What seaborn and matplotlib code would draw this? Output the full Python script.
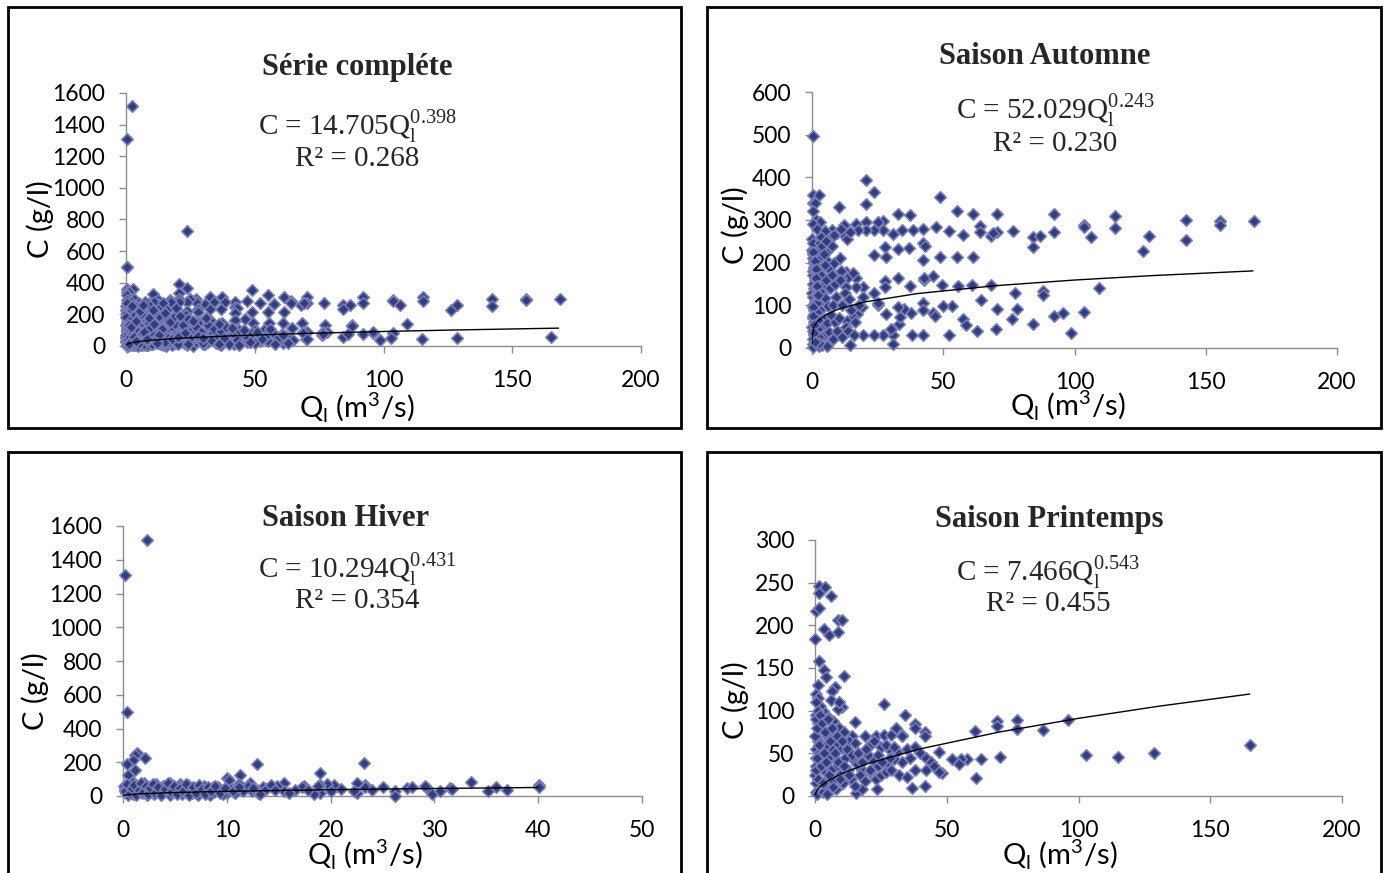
import pandas as pd
import numpy as np
import matplotlib.pyplot as plt
import seaborn as sns
from matplotlib.patches import Rectangle

sns.set_theme(style='white')
plt.rcParams['font.family'] = ['Lato', 'DejaVu Sans']

# autumn points (Q in m3/s, C in g/l)
autumn_q = [0.5, 0.5, 2.7, 0.5, 1.2, 0.3, 20.6, 23.6, 48.8, 20.6, 10.3, 1.5, 3, 0.4, 1.8, 32.6, 37.3, 55.1, 61.5, 70.3,
            92.2, 92.2, 84.3, 86.9, 84.3, 76.7, 70.3, 68, 69, 64, 64, 57.4, 52.2, 47.1, 42.4, 38.6, 34.2, 30.7, 27.2, 27.2,
            25, 23.6, 20.6, 20.6, 16.9, 17.6, 12.3, 12.3, 7.5, 9.5, 13.5, 4.5, 6, 2.5, 5, 8.5, 11, 14.5,
            42.4, 43, 37, 32.6, 27.8, 28, 23.6, 48.8, 55.1, 61.5, 42.4, 46.2, 42.5, 42.5, 37.3, 32.6, 27.8, 27.8, 23.6, 19.5,
            19.5, 16.8, 16.8, 13, 13.5, 11, 13, 49.4, 55.7, 60.8, 68.3, 64.4, 70.3, 77.3, 78.2, 87.9, 87.9, 76.1, 84.3, 92.2,
            95.8, 98.5, 70, 62.7, 57.5, 58.8, 52.2, 53.4, 50, 46.2, 47, 42.4, 42.4, 37.9, 35, 32.6, 33.2, 33.6, 30.7, 30.7,
            30, 27, 23.6, 19.6, 38, 42.4, 28, 25, 25, 14.5, 19, 17, 15.5, 13.5,
            103.6, 103.6, 106.3, 115.4, 115.4, 126.2, 128.5, 142.3, 142.3, 155.4, 155.4, 168.4, 109.3, 103.7,
            0.1, 0.2, 0.3, 0.6, 0.8, 0.2, 0.4, 1, 0.3, 0.7, 0.1, 0.5, 1.1, 0.2, 0.6, 0.9, 0.3, 0.7, 0.1, 0.4,
            0.8, 0.2, 0.5, 0.3, 1.5, 1.8, 2.2, 1.6, 2.4, 1.9, 2.6, 1.4, 2.1, 1.7, 2.8, 1.3, 2.5, 3.2, 3.6, 4.1,
            3.4, 4.5, 3.8, 4.3, 3.1, 4.8, 3.5, 4.2, 3.9, 5.2, 5.8, 6.3, 5.5, 6.8, 5.1, 6.1, 7.2, 5.6, 6.6, 7.4,
            5.9, 7.8, 8.3, 7.5, 8.8, 9.2, 7.9, 8.6, 9.5, 8.1, 10.5, 11.2, 10.8, 12.5, 11.6, 10.2, 12.8, 11.4, 14, 15,
            16.5, 13.8, 15.8, 16, 18,
            0.15, 0.35, 0.55, 0.75, 0.95, 1.15, 1.35, 1.55, 1.75, 1.95, 2.15, 2.35, 2.55, 2.75, 2.95, 3.3, 3.7, 4.4, 4.9, 5.3,
            0.25, 0.45, 0.65, 0.85, 1.05, 1.25, 1.45, 1.65, 2.05, 2.45]
autumn_c = [497, 358, 358, 339, 340, 320, 394, 366, 355, 337, 331, 300, 296, 290, 280, 313, 312, 320, 313, 313,
            313, 273, 259, 262, 237, 275, 272, 262, 270, 285, 272, 265, 275, 284, 279, 276, 277, 268, 298, 276,
            296, 276, 296, 276, 290, 276, 288, 265, 276, 270, 256, 265, 262, 255, 275, 265, 280, 272,
            245, 240, 234, 232, 236, 213, 219, 214, 214, 214, 206, 169, 160, 165, 145, 163, 158, 143, 128, 143,
            120, 163, 143, 177, 163, 163, 143, 148, 145, 147, 147, 112, 91, 130, 91, 134, 125, 68, 56, 75,
            83, 36, 45, 41, 67, 53, 31, 99, 99, 83, 75, 106, 89, 83, 91, 97, 57, 72, 31, 10,
            45, 31, 31, 31, 31, 31, 80, 100, 106, 8, 95, 80, 72, 63,
            288, 283, 261, 309, 282, 228, 262, 300, 253, 298, 288, 297, 140, 85,
            230, 220, 210, 200, 190, 180, 170, 160, 150, 140, 130, 120, 110, 100, 90, 80, 70, 60, 50, 40,
            30, 20, 10, 2, 235, 215, 195, 175, 155, 135, 115, 95, 75, 55, 35, 15, 5, 230, 210, 190,
            170, 150, 128, 108, 88, 68, 48, 28, 8, 225, 205, 185, 160, 140, 118, 98, 78, 58, 38, 18,
            4, 240, 200, 170, 150, 120, 100, 60, 40, 20, 210, 180, 160, 130, 100, 70, 50, 25, 115, 90,
            60, 40, 175, 30, 100,
            255, 245, 225, 205, 185, 165, 145, 125, 105, 85, 65, 45, 25, 12, 245, 260, 240, 220, 195, 250,
            95, 75, 55, 35, 15, 205, 185, 165, 145, 125]

winter_q = [0.2, 2.3, 0.4, 1.38, 1.2, 2.1, 1.0, 0.35, 1.2, 12.9, 23.2, 19, 10, 11.3, 0.5, 33.5, 40.1, 40.1, 37, 35.9,
            35.2, 31.5, 31.7, 29.3, 29.8, 29.1, 27.4, 26.2, 26.2, 25, 23.3, 23.3, 22.5, 22.5, 22.3, 20.3, 19.7, 20, 19, 19,
            18.4, 17.4, 17.2, 16.6, 15.5, 14.8, 15.5, 13.5, 12.9, 12.2, 12.4, 11.5, 11.2, 10.2, 10, 9, 8.7, 8.4, 7.8, 6.8,
            6, 5.5, 4.5, 3.2, 2, 1,
            0.1, 0.2, 0.3, 0.5, 0.6, 0.8, 1, 1.2, 1.4, 1.6, 1.8, 2, 2.3, 2.5, 2.8, 3, 3.3, 3.6, 3.9, 4.2,
            4.5, 4.8, 5.1, 5.4, 5.7, 6, 6.3, 6.6, 6.9, 7.2, 7.5, 7.8, 8.1, 8.4, 8.8, 9.2, 9.6, 10.4, 10.8, 11.6,
            12, 13, 13.8, 14.3, 16, 17.8, 18.8, 21, 24, 27.8, 30.5,
            0.15, 0.4, 0.7, 0.9, 1.1, 1.3, 1.5, 1.7, 1.9, 2.2, 2.4, 2.6, 2.9, 3.1, 3.4, 3.7, 4, 4.3, 4.6, 4.9,
            5.2, 5.5, 5.8, 6.1, 6.4, 6.7, 7, 7.3, 7.6, 7.9, 8.2, 8.5, 8.9, 9.3, 9.8, 10.6, 11.2, 12.5, 13.2, 14.6]
winter_c = [1310, 1520, 500, 255, 245, 224, 214, 190, 153, 190, 198, 139, 108, 122, 122, 84, 65, 51, 37, 51,
            31, 47, 40, 47, 10, 57, 47, 27, 2, 55, 67, 55, 78, 16, 27, 67, 71, 27, 20, 65,
            14, 61, 51, 37, 80, 61, 30, 51, 35, 78, 27, 51, 71, 92, 20, 45, 51, 8, 51, 40,
            60, 70, 80, 70, 75, 82,
            60, 40, 20, 5, 55, 30, 10, 45, 25, 60, 15, 40, 5, 55, 30, 10, 48, 20, 62, 35,
            8, 50, 25, 58, 12, 38, 65, 20, 45, 5, 30, 62, 15, 40, 25, 55, 12, 40, 20, 30,
            60, 20, 40, 65, 20, 35, 58, 40, 35, 55, 30,
            30, 70, 15, 50, 65, 5, 35, 75, 25, 60, 10, 45, 70, 20, 55, 5, 40, 75, 25, 60,
            10, 45, 30, 70, 5, 55, 20, 65, 40, 10, 55, 30, 60, 20, 45, 30, 55, 45, 10, 35]

spring_q = [1.6, 3.8, 1.5, 6, 0.5, 1.4, 8.8, 10.4, 3.6, 5.5, 8.8, 0.1, 1.5, 3.5, 4.2, 11, 7.6, 6.3, 0.2, 1.3,
            6, 10.4, 8.8, 26.1, 34, 15.2, 38, 38, 30.7, 33.2, 41.8, 41.8, 60.7, 68.9, 68.9, 76.6, 76.6, 86.4, 96.1, 70.1,
            62.9, 57.5, 55.5, 52, 54.5, 48.1, 61, 46.9, 41.8, 37, 23.6, 15.7, 17.9, 103, 115, 128.5, 165,
            14, 19, 23, 26, 29, 33, 21, 25, 28, 31, 35, 38, 40, 42, 44, 36, 33, 30, 27, 24,
            22, 20, 18, 16, 14, 12, 10, 8, 6, 4, 2, 1, 0.5, 3, 5, 7, 9, 11, 13, 2,
            0.3, 1, 0.5, 0.2, 0.4, 0.1, 0.3, 0.2, 0.6, 1.5, 2.5, 3.5, 4.5, 5.5, 6.5, 7.5, 8.5, 9.5, 10.5, 11.5,
            12.5, 13.5, 15, 17, 19, 21, 23, 25, 27, 29, 32, 35, 38, 42, 45, 47, 1.2, 2.5, 4, 5,
            6, 7, 8, 3, 4.5, 9, 12,
            0.1, 0.3, 0.5, 0.7, 0.9, 1.1, 1.3, 1.6, 1.9, 2.2, 2.6, 3, 3.4, 3.8, 4.3, 4.8, 5.3, 5.8, 6.4, 7,
            7.6, 8.2, 8.9, 9.6, 10.3, 11.1, 12, 13, 14, 15, 16.5, 18, 19.5, 21, 22.5, 24, 25.5, 27, 28.5, 30]
spring_c = [246, 245, 238, 234, 217, 220, 206, 206, 196, 189, 192, 184, 158, 148, 139, 141, 128, 123, 120, 115,
            113, 104, 102, 108, 95, 87, 84, 80, 80, 72, 75, 70, 76, 88, 82, 89, 79, 77, 89, 46,
            43, 43, 43, 43, 38, 27, 21, 51, 12, 9, 8, 3, 8, 48, 46, 50, 60,
            70, 70, 70, 72, 72, 70, 60, 58, 55, 52, 55, 58, 50, 45, 40, 45, 40, 43, 38, 35,
            42, 48, 30, 38, 45, 52, 58, 62, 68, 72, 78, 85, 95, 100, 92, 88, 80, 75, 65, 105,
            110, 65, 55, 45, 35, 25, 15, 5, 2, 50, 40, 30, 20, 12, 55, 45, 35, 25, 15, 45,
            30, 20, 12, 25, 18, 28, 20, 25, 28, 30, 25, 22, 30, 30, 35, 28, 130, 90, 60, 45,
            30, 18, 8, 5, 2, 110, 30,
            70, 90, 30, 80, 45, 100, 20, 60, 95, 35, 85, 15, 50, 75, 40, 90, 25, 65, 80, 10,
            50, 70, 40, 20, 65, 35, 55, 25, 48, 62, 50, 40, 55, 30, 65, 48, 40, 60, 45, 58]

# points only present in the complete series
other_q = [23.5, 5, 10, 15, 20, 30, 40, 50, 55, 60, 65, 45, 35, 25, 12, 8, 3, 1,
           2, 4, 6, 9, 11, 14, 17, 19, 22, 24, 27, 29, 32, 34, 37, 39, 42, 44, 47, 49, 52, 54,
           57, 59, 62, 3, 7, 13, 18, 23, 28, 33, 38, 43, 48, 53, 58, 63, 1.5, 5.5, 9.5, 16,
           21, 26, 31, 36, 41, 46, 51, 56, 61, 4, 8, 12, 20, 24, 30, 36, 44, 0.5, 2.5, 6.5, 10.5, 15, 19.5]
other_c = [730, 20, 15, 25, 10, 20, 15, 20, 30, 35, 40, 50, 60, 50, 40, 30, 25, 15,
           120, 160, 200, 180, 140, 110, 150, 190, 130, 170, 120, 90, 130, 110, 95, 120, 75, 100, 60, 85,
           70, 55, 80, 50, 65, 60, 90, 70, 45, 85, 65, 40, 50, 35, 25, 45, 15, 20, 240, 220, 250, 230,
           190, 160, 180, 140, 115, 100, 90, 110, 70, 30, 45, 20, 60, 15, 50, 10, 5, 270, 250, 260, 230, 210, 240]

# power-law trend lines C = a * Q^b
trend_all_q = [0.5, 1, 2, 5, 10, 20, 40, 70, 100, 130, 168]
trend_all_c = [11.2, 14.7, 19.4, 27.9, 36.8, 48.5, 63.8, 79.8, 91.9, 102, 113]
trend_aut_q = [0.001, 0.01, 0.1, 0.5, 1, 2, 5, 10, 20, 40, 70, 100, 130, 168]
trend_aut_c = [9.7, 17.0, 29.7, 44.0, 52.0, 61.6, 76.9, 91.0, 107.8, 127.5, 146.1, 159.3, 169.8, 180.7]
trend_win_q = [0.05, 0.2, 0.5, 1, 2, 5, 10, 20, 30, 40]
trend_win_c = [2.8, 5.1, 7.6, 10.3, 13.9, 20.6, 27.8, 37.4, 44.6, 50.5]
trend_spr_q = [0.05, 0.5, 1, 2, 5, 10, 20, 40, 70, 100, 130, 165]
trend_spr_c = [1.5, 5.1, 7.5, 10.9, 17.9, 26.1, 38.0, 55.3, 75.0, 91.0, 105.0, 119.5]

titles = ['Série compléte', 'Saison Automne', 'Saison Hiver', 'Saison Printemps']
equations = [('14.705', '0.398', '0.268'), ('52.029', '0.243', '0.230'),
             ('10.294', '0.431', '0.354'), ('7.466', '0.543', '0.455')]

autumn = pd.DataFrame({'Q': autumn_q, 'C': autumn_c})
winter = pd.DataFrame({'Q': winter_q, 'C': winter_c})
spring = pd.DataFrame({'Q': spring_q, 'C': spring_c})
other = pd.DataFrame({'Q': other_q, 'C': other_c})
complete = pd.concat([autumn, winter, spring, other], ignore_index=True)

W, H = 1387, 873
fig = plt.figure(figsize=(W / 100, H / 100), dpi=100)

# boxes around each chart (pixel coords)
boxes = [(8, 7, 681, 428), (707, 7, 1381, 428), (8, 452, 681, 880), (707, 452, 1381, 880)]
for x0, y0, x1, y1 in boxes:
    fig.patches.append(Rectangle((x0 / W, 1 - y1 / H), (x1 - x0) / W, (y1 - y0) / H,
                                 transform=fig.transFigure, fill=False, lw=2, ec='black'))

# axes placement: left, right, bottom(0), top pixel
ax_px = [(126, 641, 346, 93), (812, 1337, 348, 92), (123, 642, 796, 526), (815, 1342, 796, 540)]
ylims = [1600, 600, 1600, 300]
ysteps = [200, 100, 200, 50]
xlims = [200, 200, 50, 200]
xsteps = [50, 50, 10, 50]
frames = [complete, autumn, winter, spring]
trends = [(trend_all_q, trend_all_c), (trend_aut_q, trend_aut_c), (trend_win_q, trend_win_c), (trend_spr_q, trend_spr_c)]
ylab_pos = [(-0.167, 0.50), (-0.147, 0.48), (-0.17, 0.39), (-0.152, 0.375)]
xlab_pos = [(0.449, -0.245), (0.488, -0.227), (0.466, -0.219), (0.465, -0.23)]
title_pos = [(357, 68), (1045, 56), (346, 518), (1049, 520)]
eq_pos = [(357, 126, 159), (1055, 110, 144), (357, 569, 601), (1048, 572, 604)]

for i in range(4):
    l, r, b, t = ax_px[i]
    ax = fig.add_axes([l / W, 1 - b / H, (r - l) / W, (b - t) / H])
    sns.scatterplot(data=frames[i], x='Q', y='C', ax=ax, marker='D', s=34, color='#2F3E7C',
                    edgecolor='#7B7BB5', linewidth=1.2, clip_on=False, legend=False, zorder=3)
    sns.lineplot(x=trends[i][0], y=trends[i][1], ax=ax, color='black', lw=1, sort=False,
                 estimator=None, zorder=4)
    ax.set_xlim(0, xlims[i])
    ax.set_ylim(0, ylims[i])
    ax.set_xticks(np.arange(0, xlims[i] + 1, xsteps[i]))
    ax.set_yticks(np.arange(0, ylims[i] + 1, ysteps[i]))
    for s in ['top', 'right']:
        ax.spines[s].set_visible(False)
    for s in ['left', 'bottom']:
        ax.spines[s].set_color('#8C8C8C')
        ax.spines[s].set_linewidth(1)
    ax.tick_params(axis='both', direction='out', length=5, width=1, color='#8C8C8C',
                   labelsize=16.5, labelcolor='black', left=True, bottom=True)
    ax.tick_params(axis='y', pad=10)
    ax.tick_params(axis='x', pad=12)
    ax.set_ylabel('C (g/l)', fontsize=21, color='black')
    ax.yaxis.set_label_coords(*ylab_pos[i])
    ax.yaxis.label.set_va('center')
    ax.set_xlabel(r'Q$_\mathregular{l}$ (m$^\mathregular{3}$/s)', fontsize=21, color='black')
    ax.xaxis.set_label_coords(*xlab_pos[i])
    ax.xaxis.label.set_va('center')
    ax.set_facecolor('none')

    tx, ty = title_pos[i]
    fig.text(tx / W, 1 - ty / H, titles[i], ha='center', va='center', fontsize=22,
             fontweight='bold', family=['Liberation Serif', 'DejaVu Serif'])
    ex, ey1, ey2 = eq_pos[i]
    a, p, r2 = equations[i]
    fig.text(ex / W, 1 - ey1 / H, 'C = ' + a + r'Q$_\mathregular{l}^\mathregular{' + p + '}$',
             ha='center', va='center', fontsize=21, family=['Liberation Serif', 'DejaVu Serif'])
    fig.text(ex / W, 1 - ey2 / H, 'R² = ' + r2, ha='center', va='center', fontsize=21,
             family=['Liberation Serif', 'DejaVu Serif'])

fig.savefig('out.png', dpi=100, facecolor='white')
